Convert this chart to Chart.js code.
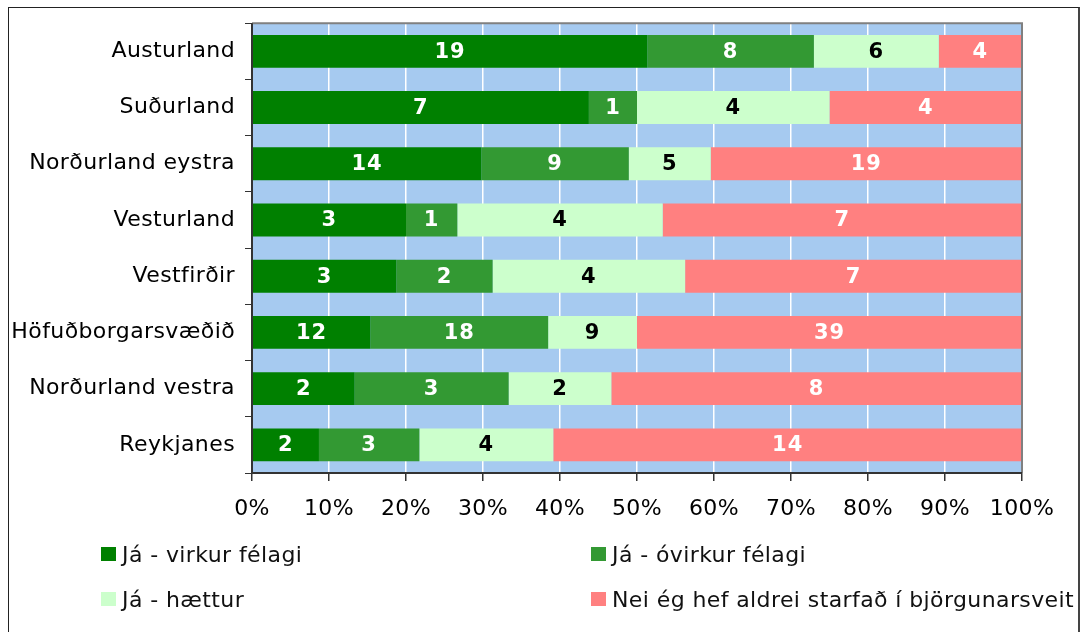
<!DOCTYPE html>
<html>
<head>
<meta charset="utf-8">
<script src="https://cdn.jsdelivr.net/npm/chart.js@4"></script>
<style>
  html, body { margin: 0; padding: 0; background: #fff; overflow: hidden; }
  #wrap { position: relative; width: 1085px; height: 632px; }
  #frame { position: absolute; left: 8px; top: 7px; width: 1069px; height: 700px;
           border-left: 1px solid #222; border-top: 1px solid #222; border-right: 2px solid #444; }
  canvas { position: absolute; left: 0; top: 0; }
  .leg { position: absolute; font-family: "DejaVu Sans", Verdana, sans-serif; font-size: 22px; color: #111;
         line-height: 24px; white-space: nowrap; letter-spacing: 0.4px; }
  .leg span { display: inline-block; width: 15px; height: 14px; margin-right: 6px; vertical-align: 1px; }
</style>
</head>
<body>
<div id="wrap">
  <div id="frame"></div>
  <canvas id="chart" width="1085" height="632"></canvas>
  <div id="legend"></div>
</div>
<script>
// --- DONNÉES ---
const regions = ['Austurland','Suðurland','Norðurland eystra','Vesturland','Vestfirðir','Höfuðborgarsvæðið','Norðurland vestra','Reykjanes'];
const virkur   = [19, 7, 14, 3, 3, 12, 2, 2];
const ovirkur  = [8, 1, 9, 1, 2, 18, 3, 3];
const haettur  = [6, 4, 5, 4, 4, 9, 2, 4];
const aldrei   = [4, 4, 19, 7, 7, 39, 8, 14];
const seriesNames = ['Já - virkur félagi','Já - óvirkur félagi','Já - hættur','Nei ég hef aldrei starfað í björgunarsveit'];
const colors = ['#008000','#339933','#CCFFCC','#FF8080'];
const labelColors = ['#fff','#fff','#000','#fff'];
const xTicks = [0,10,20,30,40,50,60,70,80,90,100];

const counts = [virkur, ovirkur, haettur, aldrei];
const totals = regions.map((r, i) => counts.reduce((s, a) => s + a[i], 0));

const FONT = '"DejaVu Sans", Verdana, sans-serif';

// fond bleu + cadre du graphique
const plotBg = {
  id: 'plotBg',
  beforeDraw(chart) {
    const {ctx, chartArea: a} = chart;
    ctx.save();
    ctx.fillStyle = '#A6CAF0';
    ctx.fillRect(a.left, a.top, a.right - a.left, a.bottom - a.top);
    ctx.restore();
    ctx.letterSpacing = '0.4px'; // texte un peu plus large, façon Verdana
  },
  afterDatasetsDraw(chart) {
    const {ctx, chartArea: a} = chart;
    ctx.save();
    ctx.strokeStyle = '#808080';
    ctx.lineWidth = 2;
    ctx.beginPath();
    ctx.moveTo(a.left, a.top);
    ctx.lineTo(a.right, a.top);
    ctx.lineTo(a.right, a.bottom);
    ctx.stroke();
    ctx.strokeStyle = '#333';
    ctx.beginPath();
    ctx.moveTo(a.left, a.top);
    ctx.lineTo(a.left, a.bottom);
    ctx.lineTo(a.right, a.bottom);
    ctx.stroke();
    ctx.restore();
  }
};

// étiquettes des nombres dans les barres
const barLabels = {
  id: 'barLabels',
  afterDatasetsDraw(chart) {
    const ctx = chart.ctx;
    ctx.save();
    ctx.font = 'bold 21px ' + FONT;
    ctx.letterSpacing = '1px';
    ctx.textAlign = 'center';
    ctx.textBaseline = 'middle';
    chart.data.datasets.forEach((ds, di) => {
      chart.getDatasetMeta(di).data.forEach((bar, i) => {
        const x = (bar.x + bar.base) / 2;
        ctx.fillStyle = labelColors[di];
        ctx.fillText(String(counts[di][i]), x, bar.y + 1);
      });
    });
    ctx.restore();
  }
};

new Chart(document.getElementById('chart'), {
  type: 'bar',
  data: {
    labels: regions,
    datasets: counts.map((arr, di) => ({
      label: seriesNames[di],
      data: arr.map((v, i) => v / totals[i] * 100),
      backgroundColor: colors[di],
      borderWidth: 0,
      barPercentage: 0.584,
      categoryPercentage: 1
    }))
  },
  options: {
    indexAxis: 'y',
    responsive: false,
    animation: false,
    layout: { padding: { top: 21, right: 63, bottom: 114, left: 0 } },
    plugins: { legend: { display: false }, tooltip: { enabled: false } },
    scales: {
      x: {
        stacked: true,
        min: 0, max: 100,
        afterBuildTicks: s => { s.ticks = xTicks.map(v => ({ value: v })); },
        afterFit: s => { s.height = 45; },
        grid: { color: '#fff', lineWidth: 1.5, tickColor: '#333', tickLength: 8 },
        border: { display: false },
        ticks: { callback: v => v + '%', color: '#000', font: { family: FONT, size: 22 }, padding: 15, maxRotation: 0 }
      },
      y: {
        stacked: true,
        afterFit: s => { s.width = 252; },
        grid: { drawOnChartArea: false, tickColor: '#333', tickLength: 7, offset: true },
        border: { display: false },
        ticks: { color: '#000', font: { family: FONT, size: 22 }, padding: 10 }
      }
    }
  },
  plugins: [plotBg, barLabels]
});

// --- LÉGENDE ---
const legPos = [[101, 543], [591, 543], [101, 588], [591, 588]];
const legend = document.getElementById('legend');
seriesNames.forEach((name, i) => {
  const d = document.createElement('div');
  d.className = 'leg';
  d.style.left = legPos[i][0] + 'px';
  d.style.top = legPos[i][1] + 'px';
  d.innerHTML = `<span style="background:${colors[i]}"></span>${name}`;
  legend.appendChild(d);
});
</script>
</body>
</html>
